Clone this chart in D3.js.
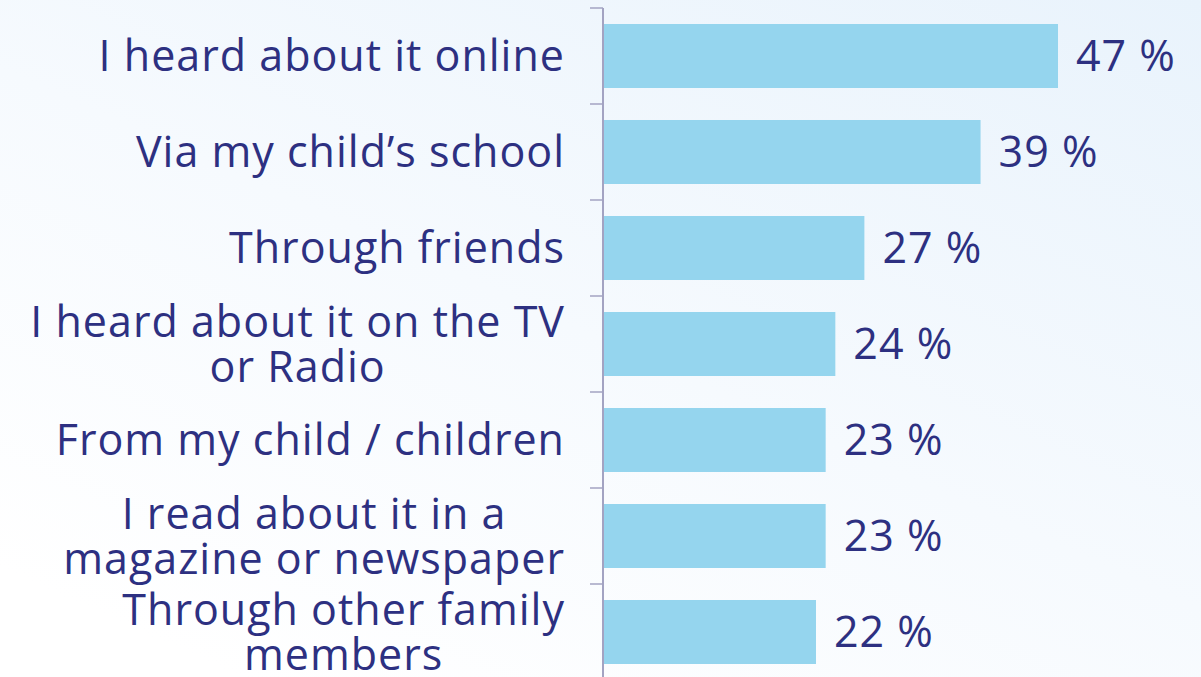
<!DOCTYPE html>
<html>
<head>
<meta charset="utf-8">
<script src="https://cdn.jsdelivr.net/npm/d3@7"></script>
<style>
  html, body { margin: 0; padding: 0; }
  body { width: 1201px; height: 677px; overflow: hidden; }
  svg { display: block; }
</style>
</head>
<body>
<svg id="chart" width="1201" height="677"></svg>
<script>
// How respondents heard about it (share of respondents, %)
const categories = [
  ["I heard about it online"],
  ["Via my child\u2019s school"],
  ["Through friends"],
  ["I heard about it on the TV", "or Radio"],
  ["From my child / children"],
  ["I read about it in a", "magazine or newspaper"],
  ["Through other family", "members"]
];
const values = [47, 39, 27, 24, 23, 23, 22];
const valueSuffix = " %";

const W = 1201, H = 677;
const textColor = "#2d3081";
const barColor = "#95d5ee";
const axisColor = "#a3a3c2";
const fontFamily = "'Open Sans', 'Noto Sans', sans-serif";
const fontSize = 43;
const letterSpacing = 1;

const svg = d3.select("#chart");

// soft background wash
const defs = svg.append("defs");
const grad = defs.append("linearGradient")
  .attr("id", "bg").attr("x1", "100%").attr("y1", "0%").attr("x2", "20%").attr("y2", "100%");
grad.append("stop").attr("offset", "0%").attr("stop-color", "#e9f3fc");
grad.append("stop").attr("offset", "55%").attr("stop-color", "#f6fafe");
grad.append("stop").attr("offset", "100%").attr("stop-color", "#ffffff");
svg.append("rect").attr("width", W).attr("height", H).attr("fill", "url(#bg)");

const keys = categories.map((c, i) => i);

const y = d3.scaleBand()
  .domain(keys)
  .range([8, 680])
  .paddingInner(1 / 3)
  .paddingOuter(1 / 6);

const x = d3.scaleLinear()
  .domain([0, 47])
  .range([603, 1058]);

// bars
svg.append("g")
  .selectAll("rect")
  .data(values)
  .join("rect")
  .attr("x", x(0))
  .attr("y", (d, i) => y(i))
  .attr("width", d => x(d) - x(0))
  .attr("height", y.bandwidth())
  .attr("fill", barColor);

// vertical axis with ticks on the band boundaries
const step = y.step();
const edges = keys.map(i => y(i) - step * y.paddingInner() / 2)
  .concat([y(keys.length - 1) + y.bandwidth() + step * y.paddingInner() / 2]);
const axisG = svg.append("g");
axisG.append("line")
  .attr("x1", x(0)).attr("x2", x(0))
  .attr("y1", edges[0]).attr("y2", H + 5)
  .attr("stroke", axisColor).attr("stroke-width", 2);
axisG.selectAll("line.tick")
  .data(edges)
  .join("line")
  .attr("class", "tick")
  .attr("x1", x(0) - 13).attr("x2", x(0))
  .attr("y1", d => d).attr("y2", d => d)
  .attr("stroke", axisColor).attr("stroke-width", 1.5);

// category labels: each block right-aligned to the axis gap,
// wrapped lines centred within the block
const labelRight = 565;
const lineH = 45;
const capMid = fontSize * 0.36;
const labels = svg.append("g")
  .attr("font-family", fontFamily)
  .attr("font-size", fontSize)
  .attr("letter-spacing", letterSpacing)
  .attr("fill", textColor);
categories.forEach((lines, i) => {
  const cy = y(i) + y.bandwidth() / 2;
  const t = labels.append("text");
  const spans = lines.map((ln, j) => {
    const off = (j - (lines.length - 1) / 2) * lineH;
    return t.append("tspan")
      .attr("y", cy + off + capMid)
      .text(ln);
  });
  const widths = spans.map(s => s.node().getComputedTextLength());
  const blockW = d3.max(widths);
  const centre = labelRight - blockW / 2;
  spans.forEach((s, j) => s.attr("x", centre - widths[j] / 2));
});

// value labels
svg.append("g")
  .attr("font-family", fontFamily)
  .attr("font-size", fontSize)
  .attr("letter-spacing", letterSpacing)
  .attr("fill", textColor)
  .selectAll("text")
  .data(values)
  .join("text")
  .attr("x", d => x(d) + 18)
  .attr("y", (d, i) => y(i) + y.bandwidth() / 2 + capMid)
  .text(d => d + valueSuffix);
</script>
</body>
</html>
